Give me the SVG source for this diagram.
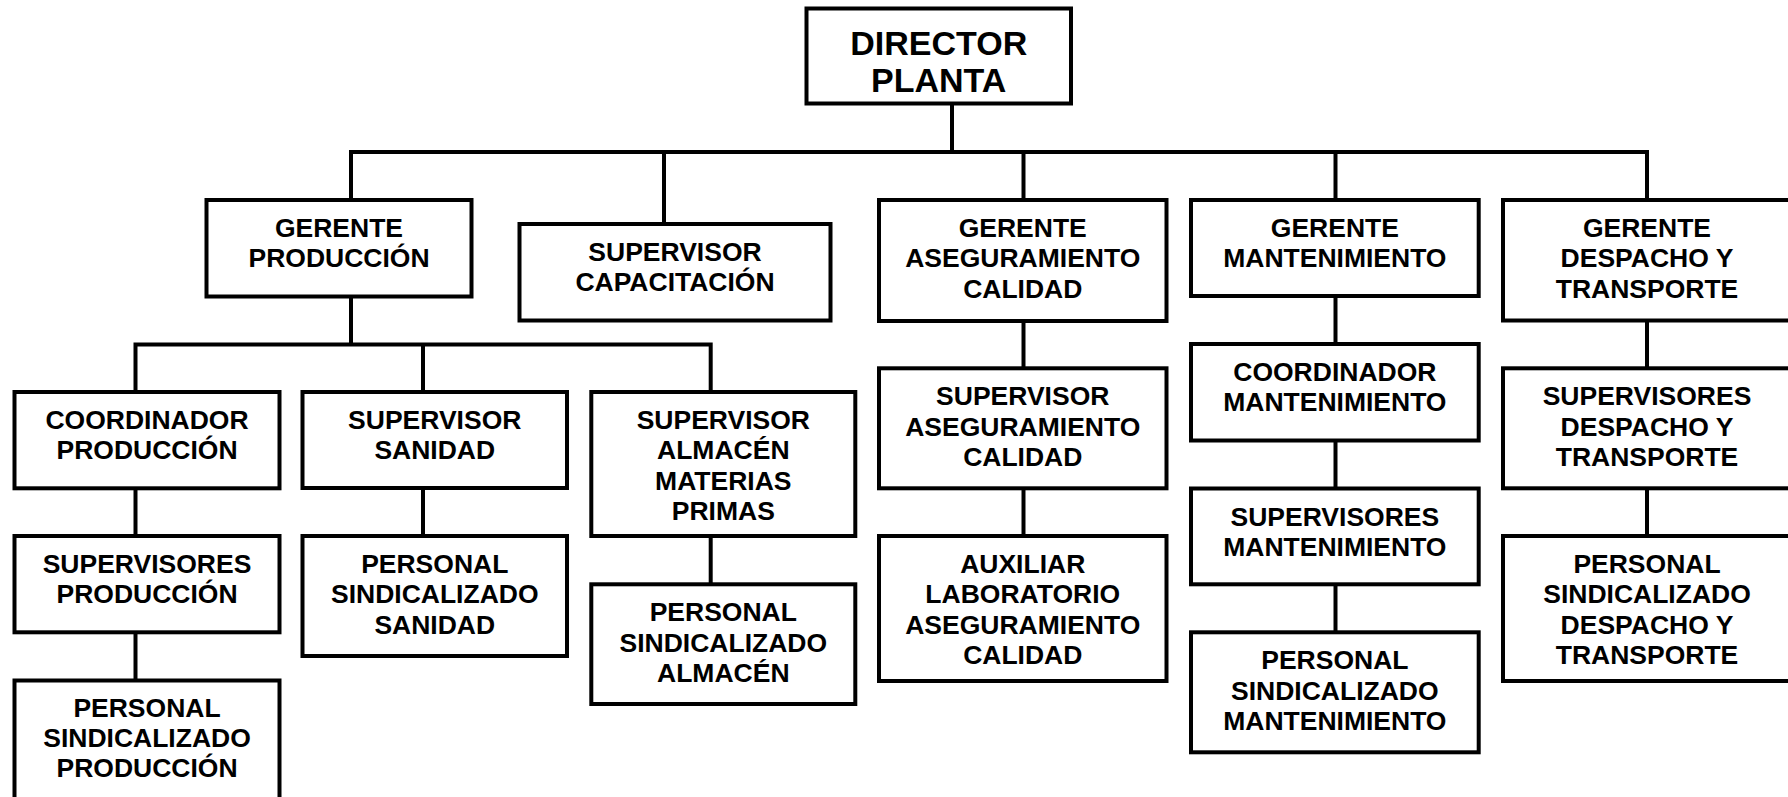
<svg xmlns="http://www.w3.org/2000/svg" width="1788" height="797" viewBox="0 0 1788 797">
  <style>
    .box { fill: #ffffff; stroke: #000000; stroke-width: 4; }
    .wire { fill: none; stroke: #000000; stroke-width: 4; stroke-linejoin: miter; }
    .t { font-family: "Liberation Sans", Arial, sans-serif; font-weight: bold; font-size: 26.5px; text-anchor: middle; fill: #000000; }
    .top { font-size: 34px; }
  </style>
  <rect width="1788" height="797" fill="#ffffff"/>

  <!-- reporting lines -->
  <g id="connectors" class="wire">
    <path d="M952 104 V152"/>
    <path d="M351 200 V152 H1647 V200"/>
    <path d="M664 152 V224"/>
    <path d="M1023.5 152 V200"/>
    <path d="M1335.5 152 V200"/>
    <path d="M351 296.5 V344.5"/>
    <path d="M135.5 392 V344.5 H710.7 V392"/>
    <path d="M423 344.5 V392"/>
    <path d="M135.5 488.3 V536"/>
    <path d="M135.5 632.3 V680.5"/>
    <path d="M423 488 V536"/>
    <path d="M710.7 536 V584.3"/>
    <path d="M1023.5 321 V368.3"/>
    <path d="M1023.5 488.3 V536"/>
    <path d="M1335.5 296 V344"/>
    <path d="M1335.5 440.5 V488.5"/>
    <path d="M1335.5 584.3 V632.3"/>
    <path d="M1647 320.5 V368.3"/>
    <path d="M1647 488.3 V536"/>
  </g>

  <g id="director-planta">
    <rect class="box" x="806.5" y="8.5" width="264.5" height="95"/>
    <text class="t top"><tspan x="938.75" y="55">DIRECTOR</tspan><tspan x="938.75" y="91.7">PLANTA</tspan></text>
  </g>

  <g id="gerente-produccion">
    <rect class="box" x="206.5" y="200" width="265" height="96.5"/>
    <text class="t"><tspan x="339" y="237">GERENTE</tspan><tspan x="339" y="267.3">PRODUCCIÓN</tspan></text>
  </g>

  <g id="supervisor-capacitacion">
    <rect class="box" x="519.5" y="224" width="311" height="96.5"/>
    <text class="t"><tspan x="675" y="261">SUPERVISOR</tspan><tspan x="675" y="291.3">CAPACITACIÓN</tspan></text>
  </g>

  <g id="gerente-aseguramiento">
    <rect class="box" x="879" y="200" width="287.5" height="121"/>
    <text class="t"><tspan x="1022.75" y="237">GERENTE</tspan><tspan x="1022.75" y="267.3">ASEGURAMIENTO</tspan><tspan x="1022.75" y="297.6">CALIDAD</tspan></text>
  </g>

  <g id="gerente-mantenimiento">
    <rect class="box" x="1191" y="200" width="287.7" height="96"/>
    <text class="t"><tspan x="1334.85" y="237">GERENTE</tspan><tspan x="1334.85" y="267.3">MANTENIMIENTO</tspan></text>
  </g>

  <g id="gerente-despacho">
    <rect class="box" x="1503" y="200" width="288" height="120.5"/>
    <text class="t"><tspan x="1647" y="237">GERENTE</tspan><tspan x="1647" y="267.3">DESPACHO Y</tspan><tspan x="1647" y="297.6">TRANSPORTE</tspan></text>
  </g>

  <g id="coordinador-produccion">
    <rect class="box" x="14.5" y="392" width="265" height="96.3"/>
    <text class="t"><tspan x="147" y="429">COORDINADOR</tspan><tspan x="147" y="459.3">PRODUCCIÓN</tspan></text>
  </g>

  <g id="supervisor-sanidad">
    <rect class="box" x="302.5" y="392" width="264.5" height="96"/>
    <text class="t"><tspan x="434.75" y="429">SUPERVISOR</tspan><tspan x="434.75" y="459.3">SANIDAD</tspan></text>
  </g>

  <g id="supervisor-almacen">
    <rect class="box" x="591.3" y="392" width="264" height="144"/>
    <text class="t"><tspan x="723.3" y="429">SUPERVISOR</tspan><tspan x="723.3" y="459.3">ALMACÉN</tspan><tspan x="723.3" y="489.6">MATERIAS</tspan><tspan x="723.3" y="519.9">PRIMAS</tspan></text>
  </g>

  <g id="supervisores-produccion">
    <rect class="box" x="14.5" y="536" width="265" height="96.3"/>
    <text class="t"><tspan x="147" y="573">SUPERVISORES</tspan><tspan x="147" y="603.3">PRODUCCIÓN</tspan></text>
  </g>

  <g id="personal-sanidad">
    <rect class="box" x="302.5" y="536" width="264.5" height="120"/>
    <text class="t"><tspan x="434.75" y="573">PERSONAL</tspan><tspan x="434.75" y="603.3">SINDICALIZADO</tspan><tspan x="434.75" y="633.6">SANIDAD</tspan></text>
  </g>

  <g id="personal-almacen">
    <rect class="box" x="591.3" y="584.3" width="264" height="119.7"/>
    <text class="t"><tspan x="723.3" y="621.3">PERSONAL</tspan><tspan x="723.3" y="651.6">SINDICALIZADO</tspan><tspan x="723.3" y="681.9">ALMACÉN</tspan></text>
  </g>

  <g id="personal-produccion">
    <rect class="box" x="14.5" y="680.5" width="265" height="122"/>
    <text class="t"><tspan x="147" y="716.5">PERSONAL</tspan><tspan x="147" y="746.8">SINDICALIZADO</tspan><tspan x="147" y="777">PRODUCCIÓN</tspan></text>
  </g>

  <g id="supervisor-aseguramiento">
    <rect class="box" x="879" y="368.3" width="287.5" height="120"/>
    <text class="t"><tspan x="1022.75" y="405.3">SUPERVISOR</tspan><tspan x="1022.75" y="435.6">ASEGURAMIENTO</tspan><tspan x="1022.75" y="465.9">CALIDAD</tspan></text>
  </g>

  <g id="auxiliar-laboratorio">
    <rect class="box" x="879" y="536" width="287.5" height="145"/>
    <text class="t"><tspan x="1022.75" y="573">AUXILIAR</tspan><tspan x="1022.75" y="603.3">LABORATORIO</tspan><tspan x="1022.75" y="633.6">ASEGURAMIENTO</tspan><tspan x="1022.75" y="663.9">CALIDAD</tspan></text>
  </g>

  <g id="coordinador-mantenimiento">
    <rect class="box" x="1191" y="344" width="287.7" height="96.5"/>
    <text class="t"><tspan x="1334.85" y="381">COORDINADOR</tspan><tspan x="1334.85" y="411.3">MANTENIMIENTO</tspan></text>
  </g>

  <g id="supervisores-mantenimiento">
    <rect class="box" x="1191" y="488.5" width="287.7" height="95.8"/>
    <text class="t"><tspan x="1334.85" y="525.5">SUPERVISORES</tspan><tspan x="1334.85" y="555.8">MANTENIMIENTO</tspan></text>
  </g>

  <g id="personal-mantenimiento">
    <rect class="box" x="1191" y="632.3" width="287.7" height="120"/>
    <text class="t"><tspan x="1334.85" y="669.3">PERSONAL</tspan><tspan x="1334.85" y="699.6">SINDICALIZADO</tspan><tspan x="1334.85" y="729.9">MANTENIMIENTO</tspan></text>
  </g>

  <g id="supervisores-despacho">
    <rect class="box" x="1503" y="368.3" width="288" height="120"/>
    <text class="t"><tspan x="1647" y="405.3">SUPERVISORES</tspan><tspan x="1647" y="435.6">DESPACHO Y</tspan><tspan x="1647" y="465.9">TRANSPORTE</tspan></text>
  </g>

  <g id="personal-despacho">
    <rect class="box" x="1503" y="536" width="288" height="145"/>
    <text class="t"><tspan x="1647" y="573">PERSONAL</tspan><tspan x="1647" y="603.3">SINDICALIZADO</tspan><tspan x="1647" y="633.6">DESPACHO Y</tspan><tspan x="1647" y="663.9">TRANSPORTE</tspan></text>
  </g>
</svg>
